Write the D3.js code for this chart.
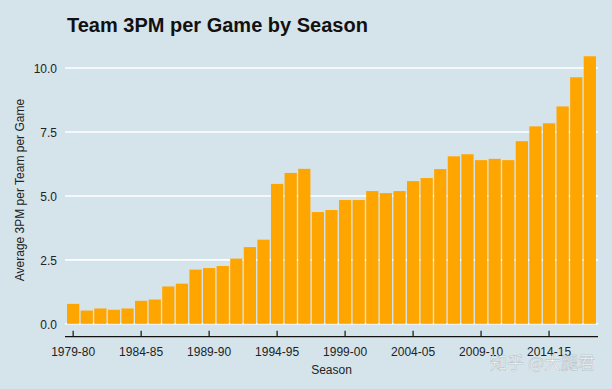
<!DOCTYPE html>
<html>
<head>
<meta charset="utf-8">
<script src="https://cdn.jsdelivr.net/npm/d3@7"></script>
<style>
  body { margin: 0; background: #d5e4eb; }
  svg { display: block; font-family: "Liberation Sans", Arial, sans-serif; }
</style>
</head>
<body>
<div id="chart"></div>
<script>
var seasons = [];
for (var yr = 1979; yr <= 2017; yr++) {
    seasons.push(yr + '-' + String((yr + 1) % 100).padStart(2, '0'));
}

var threes = [0.78, 0.52, 0.60, 0.55, 0.60, 0.90, 0.95, 1.46, 1.57, 2.12,
              2.18, 2.26, 2.55, 3.00, 3.29, 5.47, 5.90, 6.06, 4.37, 4.45,
              4.84, 4.84, 5.19, 5.11, 5.19, 5.58, 5.70, 6.05, 6.55, 6.63,
              6.40, 6.45, 6.40, 7.14, 7.72, 7.84, 8.50, 9.64, 10.46];

var tickSeasons = ['1979-80', '1984-85', '1989-90', '1994-95', '1999-00',
                   '2004-05', '2009-10', '2014-15'];
var yTicks = [0, 2.5, 5, 7.5, 10];

var data = seasons.map(function(s, i) { return {season: s, value: threes[i]}; });

var W = 612, H = 389;
var plotL = 65, plotR = 598, plotT = 42.9, plotB = 337.2;

var svg = d3.select('#chart').append('svg')
    .attr('width', W)
    .attr('height', H);

svg.append('rect')
    .attr('width', W)
    .attr('height', H)
    .attr('fill', '#d5e4eb');

var x = d3.scaleBand()
    .domain(seasons)
    .range([plotL, plotR])
    .paddingInner(0.1)
    .paddingOuter(0.15);

var y = d3.scaleLinear()
    .domain([-0.523, 10.983])
    .range([plotB, plotT]);

// gridlines
svg.selectAll('line.grid')
    .data(yTicks)
    .enter()
    .append('line')
    .attr('class', 'grid')
    .attr('x1', plotL)
    .attr('x2', plotR)
    .attr('y1', function(d) { return y(d); })
    .attr('y2', function(d) { return y(d); })
    .attr('stroke', 'white')
    .attr('stroke-width', 1.6);

// y labels
svg.selectAll('text.ylab')
    .data(yTicks)
    .enter()
    .append('text')
    .attr('class', 'ylab')
    .attr('x', 57)
    .attr('y', function(d) { return y(d) + 5; })
    .attr('text-anchor', 'end')
    .attr('font-size', '12px')
    .attr('fill', '#222')
    .text(function(d) { return d.toFixed(1); });

// bars
svg.selectAll('rect.bar')
    .data(data)
    .enter()
    .append('rect')
    .attr('class', 'bar')
    .attr('x', function(d) { return x(d.season); })
    .attr('width', x.bandwidth())
    .attr('y', function(d) { return y(d.value); })
    .attr('height', function(d) { return y(0) - y(d.value); })
    .attr('fill', '#ffa500');

// x axis line + ticks (pointing up)
svg.append('line')
    .attr('x1', plotL)
    .attr('x2', plotR)
    .attr('y1', 336.7)
    .attr('y2', 336.7)
    .attr('stroke', '#111')
    .attr('stroke-width', 1.2);

svg.selectAll('line.tick')
    .data(tickSeasons)
    .enter()
    .append('line')
    .attr('class', 'tick')
    .attr('x1', function(d) { return x(d) + x.bandwidth() / 2; })
    .attr('x2', function(d) { return x(d) + x.bandwidth() / 2; })
    .attr('y1', 330.8)
    .attr('y2', 336.7)
    .attr('stroke', '#111')
    .attr('stroke-width', 1.2);

svg.selectAll('text.xlab')
    .data(tickSeasons)
    .enter()
    .append('text')
    .attr('class', 'xlab')
    .attr('x', function(d) { return x(d) + x.bandwidth() / 2; })
    .attr('y', 356)
    .attr('text-anchor', 'middle')
    .attr('font-size', '12px')
    .attr('fill', '#222')
    .text(function(d) { return d; });

// titles
svg.append('text')
    .attr('x', 67)
    .attr('y', 32)
    .attr('font-size', '20px')
    .attr('font-weight', 'bold')
    .attr('fill', '#111')
    .text('Team 3PM per Game by Season');

svg.append('text')
    .attr('x', (plotL + plotR) / 2)
    .attr('y', 373.5)
    .attr('text-anchor', 'middle')
    .attr('font-size', '12px')
    .attr('fill', '#222')
    .text('Season');

svg.append('text')
    .attr('transform', 'translate(24,' + ((plotT + plotB) / 2) + ') rotate(-90)')
    .attr('text-anchor', 'middle')
    .attr('font-size', '12px')
    .attr('fill', '#222')
    .text('Average 3PM per Team per Game');

// watermark
svg.append('text')
    .attr('x', 595)
    .attr('y', 369)
    .attr('text-anchor', 'end')
    .attr('font-family', '"Noto Sans CJK SC", sans-serif')
    .attr('font-size', '17px')
    .attr('fill', 'white')
    .attr('fill-opacity', 0.8)
    .attr('stroke', '#8a96a0')
    .attr('stroke-width', 0.5)
    .attr('stroke-opacity', 0.6)
    .text('知乎 @大腿君');
</script>
</body>
</html>
